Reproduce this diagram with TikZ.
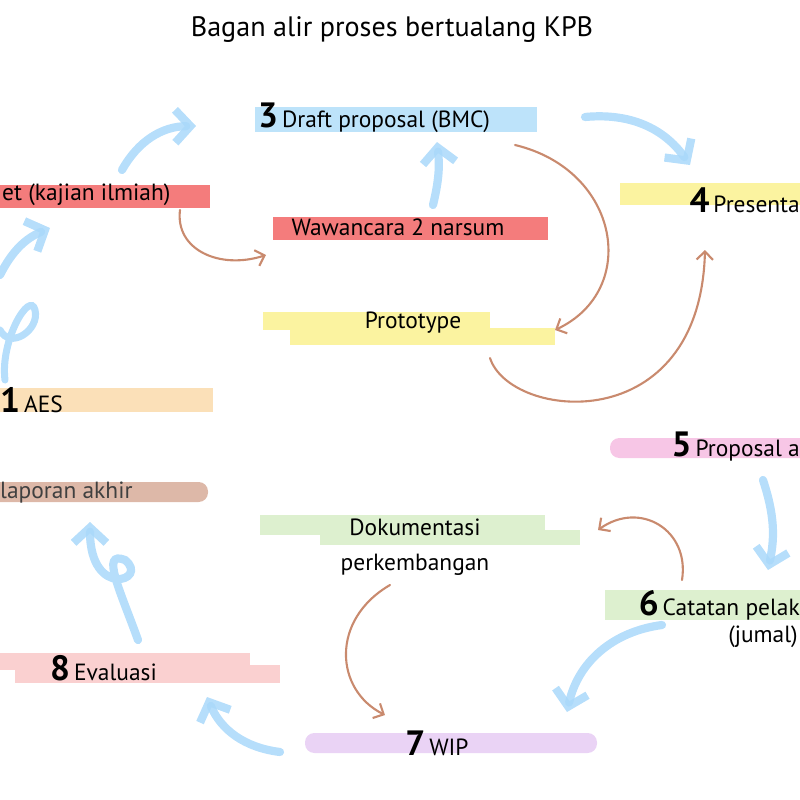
\documentclass[tikz,border=0pt]{standalone}
\usepackage{fontspec}
\setmainfont{PT Sans}
\usetikzlibrary{arrows.meta}
\definecolor{hlblue}{HTML}{BDE3FA}
\definecolor{hlred}{HTML}{F47C7C}
\definecolor{hlyellow}{HTML}{FBF3A0}
\definecolor{hlorange}{HTML}{FBE0B8}
\definecolor{hlpink}{HTML}{F7C6E6}
\definecolor{hlbrown}{HTML}{DDB8A8}
\definecolor{hlgreen}{HTML}{DDF0CF}
\definecolor{hlrose}{HTML}{FAD0D0}
\definecolor{hlpurple}{HTML}{EAD3F5}
\definecolor{flow}{HTML}{A9D8FA}
\definecolor{note}{HTML}{C98A6E}
\tikzset{
  lbl/.style={font=\fontsize{20}{22}\selectfont, inner sep=0pt},
  bigstep/.style={flow, line width=7pt, line cap=round, opacity=.85,
    -{Straight Barb[length=13pt,width=28pt,line width=7pt]}},
  substep/.style={note, line width=1.8pt, line cap=round,
    -{Straight Barb[length=7pt,width=14pt,line width=1.8pt]}}
}
\newcommand{\stepnum}[1]{{\fontsize{30}{30}\selectfont\bfseries #1}\,}
\begin{document}
\begin{tikzpicture}[x=0.03cm,y=-0.03cm]
  \useasboundingbox (0,0) rectangle (800,800);
  \clip (0,0) rectangle (800,800);
  % highlighter bars
  \fill[hlblue] (255,107) rectangle (537,132);
  \fill[hlred] (0,185) rectangle (210,208);
  \fill[hlred] (273,217) rectangle (548,240);
  \fill[hlyellow] (620,183) rectangle (800,205);
  \fill[hlyellow] (263,312) rectangle (490,330);
  \fill[hlyellow] (290,328) rectangle (555,345);
  \fill[hlorange] (0,388) rectangle (213,412);
  \fill[hlpink, rounded corners=8pt] (610,438) rectangle (820,458);
  \fill[hlbrown, rounded corners=8pt] (-20,482) rectangle (208,502);
  \fill[hlgreen] (260,515) rectangle (545,535);
  \fill[hlgreen] (320,530) rectangle (580,545);
  \fill[hlgreen] (605,590) rectangle (820,620);
  \fill[hlrose] (0,653) rectangle (250,670);
  \fill[hlrose] (15,665) rectangle (280,683);
  \fill[hlpurple, rounded corners=8pt] (305,733) rectangle (597,753);

  % labels
  \node[lbl, font=\fontsize{24}{26}\selectfont] (title) at (392,30) {Bagan alir proses bertualang KPB};
  \node[lbl, anchor=west] (draft) at (258,118) {\stepnum{3}Draft proposal (BMC)};
  \node[lbl, anchor=west] (riset) at (2,195) {et (kajian ilmiah)};
  \node[lbl] (wawancara) at (398,227) {Wawancara 2 narsum};
  \node[lbl, anchor=east] (presentasi) at (800,200) {\stepnum{4}Presenta};
  \node[lbl] (prototype) at (413,323) {Prototype};
  \node[lbl, anchor=west] (aes) at (0,400) {\stepnum{1}AES};
  \node[lbl, anchor=east] (proposal) at (800,447) {\stepnum{5}Proposal a};
  \node[lbl, anchor=west, text=black!75] (laporan) at (0,493) {laporan akhir};
  \node[lbl] (dokumentasi) at (415,527) {Dokumentasi};
  \node[lbl] (perkembangan) at (415,565) {perkembangan};
  \node[lbl, anchor=east] (catatan) at (800,605) {\stepnum{6}Catatan pelak};
  \node[lbl, anchor=east] (jurnal) at (798,637) {(jumal)};
  \node[lbl, anchor=west] (evaluasi) at (50,668) {\stepnum{8}Evaluasi};
  \node[lbl] (wip) at (437,743) {\stepnum{7}WIP};

  % main flow
  \coordinate (a1) at (0,275);   \coordinate (a2) at (50,228);
  \coordinate (b1) at (122,170); \coordinate (b2) at (196,126);
  \coordinate (c1) at (433,205); \coordinate (c2) at (437,142);
  \coordinate (d1) at (585,117); \coordinate (d2) at (690,165);
  \coordinate (e1) at (763,480); \coordinate (e2) at (768,570);
  \coordinate (f1) at (662,625); \coordinate (f2) at (567,712);
  \coordinate (g1) at (280,752); \coordinate (g2) at (207,697);
  \coordinate (h1) at (138,640); \coordinate (h2) at (90,522);
  \coordinate (l1) at (5,380);
  \draw[bigstep] (a1) to[bend left=20] (a2);
  \draw[bigstep] (b1) to[bend left=30] (b2);
  \draw[bigstep] (c1) to[bend right=10] (c2);
  \draw[bigstep] (d1) to[bend left=30] (d2);
  \draw[bigstep] (e1) to[bend left=15] (e2);
  \draw[bigstep] (f1) to[bend right=35] (f2);
  \draw[bigstep] (g1) to[bend left=30] (g2);
  \draw[flow, line width=6pt, line cap=round, opacity=.85]
    (l1) .. controls (0,340) and (30,290) .. (35,310)
    .. controls (40,330) and (10,350) .. (0,330);
  \draw[bigstep] (h1) .. controls (120,590) and (100,550) .. (125,560)
    .. controls (150,580) and (90,600) .. (h2);

  % side notes
  \coordinate (n1) at (180,210); \coordinate (n2) at (266,255);
  \coordinate (m1) at (515,145); \coordinate (m2) at (555,330);
  \coordinate (p1) at (490,358); \coordinate (p2) at (705,250);
  \coordinate (q1) at (682,580); \coordinate (q2) at (598,530);
  \coordinate (r1) at (390,585); \coordinate (r2) at (385,715);
  \draw[substep] (n1) .. controls (175,250) and (220,270) .. (n2);
  \draw[substep] (m1) .. controls (620,170) and (640,290) .. (m2);
  \draw[substep] (p1) .. controls (510,420) and (700,440) .. (p2);
  \draw[substep] (q1) .. controls (690,530) and (640,500) .. (q2);
  \draw[substep] (r1) .. controls (330,620) and (335,690) .. (r2);
\end{tikzpicture}
\end{document}
